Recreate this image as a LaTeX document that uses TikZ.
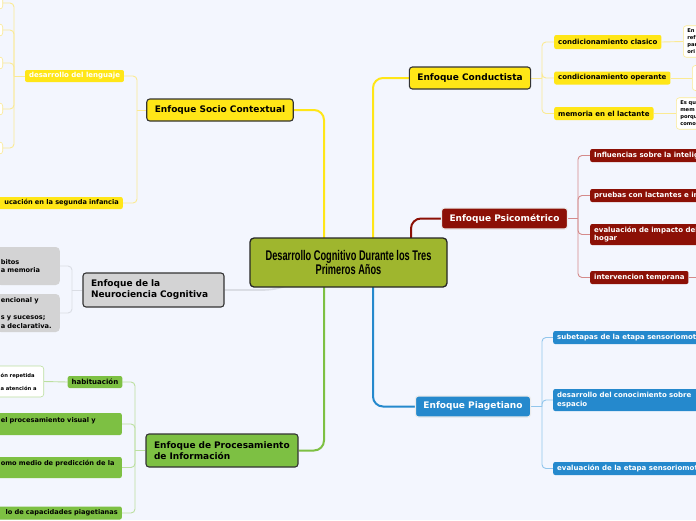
\documentclass[tikz,border=0pt]{standalone}
\usepackage{fontspec}
\setmainfont{DejaVu Sans}
\newfontfamily\titlefont[FakeStretch=0.66]{Liberation Sans}
\usetikzlibrary{backgrounds}

\definecolor{paper}{HTML}{F3F6FE}
\definecolor{mapyellow}{HTML}{FFE617}
\definecolor{paleyellow}{HTML}{FBEA93}
\definecolor{rootgreen}{HTML}{9FB62E}
\definecolor{mapred}{HTML}{8C1006}
\definecolor{palered}{HTML}{D48A8A}
\definecolor{mapblue}{HTML}{2589CD}
\definecolor{paleblue}{HTML}{92C6EC}
\definecolor{mapgreen}{HTML}{7DC043}
\definecolor{palegreen}{HTML}{BCDFA0}
\definecolor{mapgray}{HTML}{D3D3D4}
\definecolor{palegray}{HTML}{DADDE4}

\begin{document}
\begin{tikzpicture}[x=1pt, y=-1pt,
  topic/.style={draw=black!80, line width=1.1pt, rounded corners=3pt, inner xsep=8pt, inner ysep=2pt,
    font=\bfseries\fontsize{9}{11}\selectfont, align=left},
  sub/.style={rounded corners=2pt, inner xsep=4pt, inner ysep=1pt, minimum height=13pt,
    font=\bfseries\fontsize{7}{8.6}\selectfont, align=left},
  cut/.style={sub, anchor=east, font=\bfseries\fontsize{6.6}{8.6}\selectfont},
  leaf/.style={fill=white, rounded corners=3pt, line width=0.6pt, inner xsep=4pt,
    font=\bfseries\fontsize{5.2}{7}\selectfont, align=left},
  trunk/.style={line width=2pt, rounded corners=10pt},
  twig/.style={line width=0.9pt, rounded corners=4pt}]
  \useasboundingbox (0,0) rectangle (696,520);

  \node[draw=black!85, line width=1.3pt, fill=rootgreen, rounded corners=4pt, minimum width=197pt,
    minimum height=49pt, align=center, font=\titlefont\bfseries\fontsize{14}{14.5}\selectfont]
    (root) at (348.5,262.5) {Desarrollo Cognitivo Durante los Tres\\Primeros Años};

  \node[topic, fill=mapyellow, minimum width=146pt, minimum height=22pt] (socio) at (220,110) {Enfoque Socio Contextual};
  \node[topic, fill=mapyellow, minimum width=120pt, minimum height=22pt] (conduct) at (470,78) {Enfoque Conductista};
  \node[topic, fill=mapred, draw=white!85!gray, text=white, minimum width=125pt, minimum height=21pt] (psico) at (504.5,218.5) {Enfoque Psicométrico};
  \node[topic, fill=mapblue, draw=white!85!gray, text=white, minimum width=112pt, minimum height=21pt] (piaget) at (473,406.5) {Enfoque Piagetiano};
  \node[topic, fill=mapgreen, text width=136pt, minimum height=33pt] (proces) at (222,450.5) {Enfoque de Procesamiento\\de Información};
  \node[topic, fill=mapgray, text width=125pt, minimum height=34pt] (neuro) at (153.5,290) {Enfoque de la\\Neurociencia Cognitiva};

  \node[sub, fill=mapyellow, text=white, minimum width=97pt, minimum height=12pt, align=center] (lenguaje) at (74.5,76) {desarrollo del lenguaje};
  \node[cut, fill=mapyellow, text width=118pt, align=right, minimum height=12pt] (educacion) at (123,203) {ucación en la segunda infancia};
  \foreach \y [count=\i] in {3,30,63,109,148}
    \node[leaf, draw=paleyellow, anchor=east, minimum width=40pt, minimum height=12pt] (lang\i) at (3,\y) {};

  \node[cut, fill=mapgray, rounded corners=4pt, text width=55pt, minimum height=38pt] (neuro1) at (60,266) {bitos\\a memoria};
  \node[cut, fill=mapgray, rounded corners=4pt, text width=55pt, minimum height=38pt] (neuro2) at (60,313) {encional y\\\mbox{}\\s y sucesos;\\a declarativa.};

  \node[sub, fill=mapgreen, minimum width=54pt, minimum height=12pt, align=center] (habit) at (95,382) {habituación};
  \node[leaf, draw=palegreen, anchor=east, text width=39pt, minimum height=31pt] (habitleaf) at (44,381.5) {ón repetida\\[6pt]a atención a};
  \node[cut, fill=mapgreen, text width=117pt, minimum height=22pt] (visual) at (122,424) {el procesamiento visual y\\\mbox{}};
  \node[cut, fill=mapgreen, text width=117pt, minimum height=21pt] (predic) at (122,467.5) {omo medio de predicción de la\\\mbox{}};
  \node[cut, fill=mapgreen, text width=117pt, align=right] (capac) at (122,513) {lo de capacidades piagetianas};

  \node[sub, fill=mapyellow, anchor=west, minimum height=14pt] (clasico) at (554,42) {condicionamiento clasico};
  \node[sub, fill=mapyellow, anchor=west] (operante) at (554,78) {condicionamiento operante};
  \node[sub, fill=mapyellow, anchor=west] (lactante) at (554,113.5) {memoria en el lactante};
  \node[leaf, draw=paleyellow, anchor=west, text width=40pt, minimum height=31pt] (clasicoleaf) at (683,41.5) {En\\ref\\par\\ori};
  \node[leaf, draw=paleyellow, anchor=west, minimum width=30pt, minimum height=25pt] (operanteleaf) at (692,78) {};
  \node[leaf, draw=paleyellow, anchor=west, text width=40pt, minimum height=31pt] (lactanteleaf) at (676,113.5) {Es qu\\mem\\porqu\\como};

  \node[sub, fill=mapred, text=white, anchor=west] (influ) at (590,155.5) {Influencias sobre la inteligencia};
  \node[sub, fill=mapred, text=white, anchor=west] (pruebas) at (590,195.5) {pruebas con lactantes e infantes};
  \node[sub, fill=mapred, text=white, anchor=west, minimum height=21pt] (impacto) at (590,234.5) {evaluación de impacto del ambiente en el\\hogar};
  \node[sub, fill=mapred, text=white, anchor=west, minimum width=97pt] (interv) at (590,277.5) {intervencion temprana};
  \coordinate (intervEnd) at (705,277.5);

  \node[sub, fill=mapblue, text=white, anchor=west] (subetapas) at (553,337.5) {subetapas de la etapa sensoriomotora};
  \node[sub, fill=mapblue, text=white, anchor=west, text width=150pt, minimum height=22pt] (espacio) at (553,400) {desarrollo del conocimiento sobre\\espacio};
  \node[sub, fill=mapblue, text=white, anchor=west] (evalpiaget) at (553,468.5) {evaluación de la etapa sensoriomotora};

  \coordinate (rootL) at (324,262);
  \coordinate (rootM) at (373,262);
  \coordinate (rootR) at (411,262);
  \coordinate (socioB) at (137,110);
  \coordinate (langB) at (14,76);
  \coordinate (neuroB) at (72,290);
  \coordinate (procesB) at (135,450.5);
  \coordinate (conductB) at (542,78);
  \coordinate (psicoB) at (578,218.5);
  \coordinate (piagetB) at (542,406.5);

  \begin{scope}[on background layer]
    \fill[paper] (0,0) rectangle (696,520);
    \draw[trunk, mapyellow] (rootL) |- (socio.east);
    \draw[trunk, mapyellow] (rootM) |- (conduct.west);
    \draw[trunk, mapred] (rootR) |- (psico.west);
    \draw[trunk, mapblue] (rootM) |- (piaget.west);
    \draw[trunk, mapgreen] (rootL) |- (proces.east);
    \draw[line width=1.6pt, palegray] (neuro.east) -- (262,290) .. controls (280,290) and (290,285) .. (root.center);

    \draw[twig, paleyellow] (socio.west) -- (socioB);
    \foreach \n in {lenguaje,educacion}
      \draw[twig, paleyellow] (socioB) |- (\n.east);
    \draw[twig, paleyellow] (lenguaje.west) -- (langB);
    \foreach \i in {1,...,5}
      \draw[twig, paleyellow] (langB) |- (lang\i.east);

    \draw[twig, palegray] (neuro.west) -- (neuroB);
    \foreach \n in {neuro1,neuro2}
      \draw[twig, palegray] (neuroB) |- (\n.east);

    \draw[twig, palegreen] (proces.west) -- (procesB);
    \foreach \n in {habit,visual,predic,capac}
      \draw[twig, palegreen] (procesB) |- (\n.east);
    \draw[twig, palegreen] (habit.west) -- (habitleaf.east);

    \draw[twig, paleyellow] (conduct.east) -- (conductB);
    \foreach \n in {clasico,operante,lactante}
      \draw[twig, paleyellow] (conductB) |- (\n.west);
    \draw[twig, paleyellow] (clasico.east) -- (clasicoleaf.west);
    \draw[twig, paleyellow] (operante.east) -- (operanteleaf.west);
    \draw[twig, paleyellow] (lactante.east) -- (lactanteleaf.west);

    \draw[twig, palered] (psico.east) -- (psicoB);
    \foreach \n in {influ,pruebas,impacto,interv}
      \draw[twig, palered] (psicoB) |- (\n.west);
    \draw[twig, palered] (interv.east) -- (intervEnd);

    \draw[twig, paleblue] (piaget.east) -- (piagetB);
    \foreach \n in {subetapas,espacio,evalpiaget}
      \draw[twig, paleblue] (piagetB) |- (\n.west);
  \end{scope}
\end{tikzpicture}
\end{document}
